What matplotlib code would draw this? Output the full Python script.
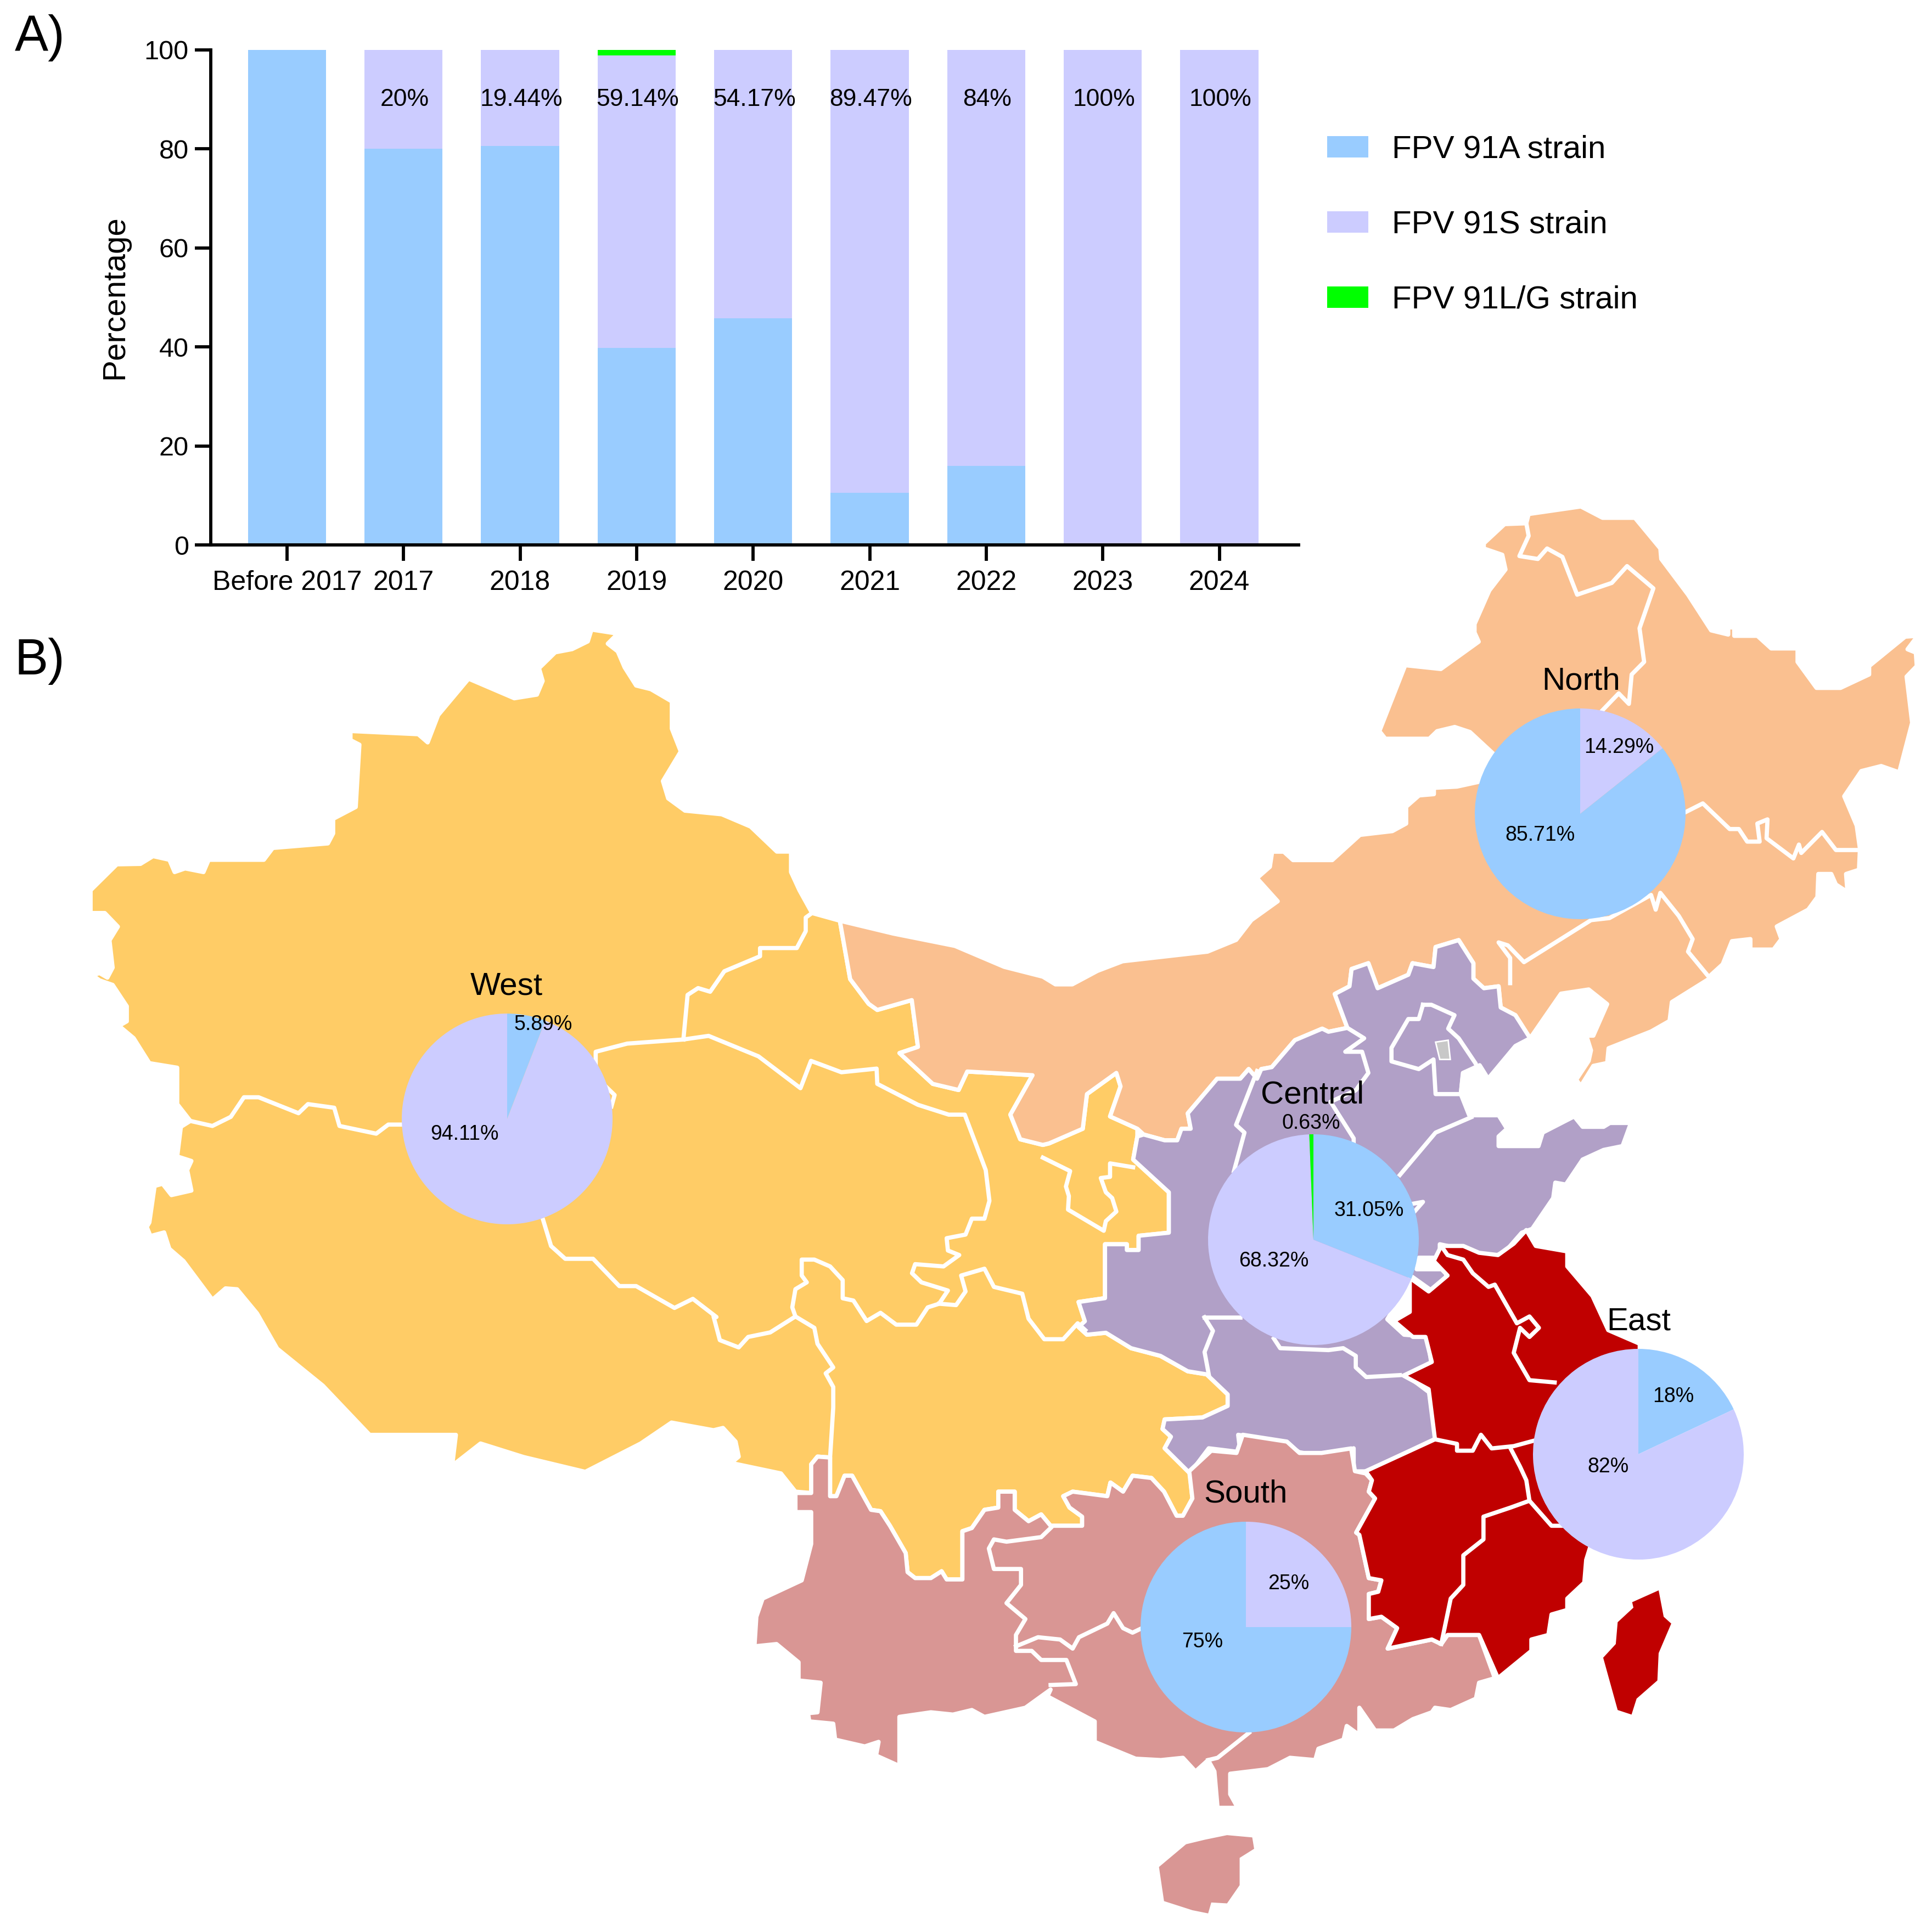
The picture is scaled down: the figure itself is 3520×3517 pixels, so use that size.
import matplotlib
matplotlib.use("Agg")
import matplotlib.pyplot as plt
from matplotlib.patches import Polygon

plt.rcParams['font.family'] = ['Liberation Sans', 'DejaVu Sans']

W, H = 3520, 3517

# bar chart data
years = ['Before 2017', '2017', '2018', '2019', '2020', '2021', '2022', '2023', '2024']
strain_a = [100, 80, 80.56, 39.78, 45.83, 10.53, 16, 0, 0]
strain_s = [0, 20, 19.44, 59.14, 54.17, 89.47, 84, 100, 100]
strain_lg = [0, 0, 0, 1.08, 0, 0, 0, 0, 0]
bar_labels = ['', '20%', '19.44%', '59.14%', '54.17%', '89.47%', '84%', '100%', '100%']

BLUE = '#99CCFF'
LAV = '#CCCCFF'
GREEN = '#00FF00'


def crop(x0, y0, w, h):
    def conv(pts):
        return [(x0 + x * w / 1568, H - (y0 + y * h / 1568)) for x, y in pts]
    return conv


s = crop(0, 0, 3520, 3517 * 1568 / 1567)
z2 = crop(2200, 900, 1320, 1200)
z3 = crop(100, 1100, 1500, 1300)
z4 = crop(1300, 2200, 1800, 1300)
z5 = crop(1900, 1650, 1200, 1100)

# map outlines
west_outline = (
    z3([(258, 1137), (233, 1100), (233, 1020), (180, 1010), (150, 955), (122, 928), (137, 918), (137, 885),
        (110, 838), (85, 828), (72, 817), (85, 812), (100, 822), (110, 800), (104, 740), (120, 710), (95, 680),
        (68, 680), (68, 630), (118, 573), (163, 572), (187, 555), (218, 563), (228, 590), (248, 582), (283, 590),
        (293, 563), (398, 563), (415, 537), (520, 527), (530, 505), (530, 473), (573, 447), (580, 310), (563, 300),
        (563, 280), (692, 287), (710, 305), (730, 245), (788, 165), (875, 208), (918, 200), (929, 170), (922, 142),
        (953, 107), (985, 100), (1015, 83), (1022, 57), (1072, 66), (1053, 88), (1072, 105), (1085, 140),
        (1107, 180), (1135, 188), (1175, 215), (1175, 275), (1192, 325), (1158, 390), (1168, 428), (1200, 455),
        (1270, 463), (1325, 490), (1375, 545), (1402, 545), (1402, 590), (1418, 630), (1442, 680), (1495, 697)])
    + s([(690, 795), (705, 815), (712, 820), (740, 812), (745, 850), (730, 855), (757, 880), (778, 885), (785, 870),
         (838, 873), (820, 905), (828, 925)])
    + z5([(0, 622), (15, 618), (95, 580), (105, 490), (175, 435), (185, 470), (160, 548), (225, 580), (225, 600),
          (215, 660), (300, 745), (300, 850), (228, 858), (228, 895), (200, 895), (200, 880), (148, 880), (148, 1020),
          (85, 1030), (100, 1080), (85, 1095), (105, 1115), (150, 1110), (210, 1150), (280, 1170), (345, 1210),
          (390, 1218), (440, 1270), (440, 1300), (380, 1330), (290, 1335), (285, 1360), (305, 1380), (290, 1410),
          (350, 1475)])
    + z4([(760, 640), (745, 678), (735, 678), (715, 625), (695, 595), (665, 590), (650, 625), (630, 605), (625, 635),
          (570, 625), (555, 635), (565, 660), (585, 680), (585, 700), (535, 700), (520, 675), (500, 690), (478, 665),
          (478, 625), (452, 625), (452, 660), (430, 665), (410, 705), (395, 712), (395, 818), (370, 818), (362, 800),
          (345, 815), (320, 815), (308, 802), (305, 760), (280, 700), (265, 668), (250, 665), (240, 640), (220, 590),
          (208, 590), (195, 635), (185, 635), (185, 550), (165, 548), (155, 565), (155, 628), (130, 625), (107, 585),
          (28, 562), (40, 548), (35, 515), (15, 485), (0, 490)])
    + s([(545, 1155), (520, 1172), (475, 1195), (425, 1183), (390, 1172), (367, 1190), (370, 1165), (300, 1165),
         (262, 1125), (225, 1095)])
    + z3([(385, 1560), (347, 1507), (325, 1505), (300, 1530), (245, 1445), (218, 1418), (208, 1382), (182, 1390),
          (175, 1370), (180, 1360), (190, 1280), (205, 1275), (222, 1300), (260, 1290), (252, 1245), (260, 1225),
          (233, 1215), (240, 1150)])
)
west_lines = [
    z3([(258, 1137), (300, 1148), (335, 1128), (360, 1085), (388, 1085), (464, 1120), (482, 1100), (532, 1108),
        (542, 1148), (612, 1165), (635, 1145), (700, 1145)]),
    z3([(1442, 680), (1430, 690), (1430, 720), (1413, 757), (1343, 757), (1343, 775), (1275, 808), (1248, 853),
        (1225, 845), (1205, 860), (1197, 958)]),
    z3([(1060, 1105), (1066, 1080), (1030, 1040), (1030, 985), (1090, 967), (1197, 958), (1245, 950), (1340, 995),
        (1420, 1065), (1440, 1005), (1498, 1030), (1565, 1022)])
    + s([(712, 880), (745, 897), (770, 905), (783, 905), (800, 950), (803, 975)])
    + z4([(430, 25), (410, 25), (400, 60), (370, 68), (372, 95), (390, 105), (365, 130), (320, 125), (315, 145),
          (330, 165), (372, 183), (358, 212), (340, 220), (322, 258), (290, 258), (265, 232), (243, 250), (222, 205),
          (205, 200), (205, 160), (185, 130), (160, 115), (140, 115), (140, 150), (148, 165), (130, 180), (125, 220),
          (130, 240), (90, 275), (55, 285), (40, 308), (10, 292), (0, 240)])
    + z3([(1260, 1568), (1215, 1528), (1180, 1548), (1107, 1500), (1075, 1500), (1025, 1440), (972, 1440), (945, 1412),
          (930, 1355)]),
    z4([(358, 212), (385, 215), (400, 185), (393, 150), (430, 135), (445, 175), (490, 190), (500, 245), (525, 290),
        (555, 290), (578, 255), (590, 270)]),
    z4([(130, 240), (160, 265), (165, 300), (190, 352), (178, 365), (190, 395), (190, 440), (185, 550)]),
    z5([(0, 655), (65, 690), (55, 730), (62, 755), (60, 790), (145, 845), (150, 820), (175, 795), (165, 760),
        (150, 745), (138, 708), (160, 705), (160, 670), (215, 680)]),
]

north_outline = (
    z3([(1495, 697)])
    + s([(690, 795), (705, 815), (712, 820), (740, 812), (745, 850), (730, 855), (757, 880), (778, 885), (785, 870),
         (838, 873), (820, 905), (828, 925)])
    + z5([(0, 622), (15, 618), (95, 580), (105, 490), (175, 435), (185, 470), (160, 548), (225, 580), (240, 595),
          (290, 610), (320, 610), (330, 580), (352, 580), (345, 540), (415, 450), (470, 450), (490, 425), (510, 450),
          (520, 425), (545, 420), (600, 350), (665, 320), (680, 328), (725, 318), (695, 230), (730, 210), (735, 165),
          (775, 150), (797, 215), (870, 180), (880, 150), (930, 160), (935, 108), (990, 90), (1025, 150), (1025, 190),
          (1050, 215), (1085, 210), (1090, 265), (1125, 285), (1160, 345)])
    + z2([(765, 1190), (825, 1180), (865, 1215), (835, 1290), (820, 1290), (830, 1325), (825, 1350), (798, 1395),
          (808, 1410), (835, 1362), (865, 1355), (868, 1320), (960, 1280), (1000, 1255), (1005, 1210), (1085, 1155),
          (1090, 1145), (1115, 1120), (1135, 1065), (1175, 1060), (1175, 1085), (1225, 1085), (1242, 1060),
          (1232, 1030), (1300, 990), (1320, 960), (1322, 905), (1350, 905), (1360, 930), (1385, 948), (1382, 905),
          (1410, 895), (1412, 845), (1405, 790), (1378, 720), (1415, 660), (1458, 648), (1497, 663), (1525, 545),
          (1513, 435), (1535, 410), (1533, 378), (1515, 370), (1537, 338), (1510, 340), (1432, 410), (1432, 430),
          (1370, 462), (1318, 462), (1277, 400), (1277, 368), (1220, 368), (1190, 338), (1140, 338), (1140, 318),
          (1127, 318), (1127, 335), (1090, 325), (1040, 240), (982, 155), (980, 130), (925, 57), (855, 57), (808, 30),
          (695, 48), (690, 70), (643, 72), (598, 118), (598, 130), (638, 145), (645, 180), (610, 230), (578, 310),
          (578, 330), (587, 352), (505, 417), (428, 408), (372, 565), (385, 583), (480, 583), (497, 565), (535, 555),
          (568, 567), (620, 620), (590, 685), (540, 697), (490, 700), (490, 715), (458, 718), (430, 745), (430, 785),
          (400, 803), (330, 812), (270, 872), (185, 872), (165, 852), (140, 852), (135, 888), (107, 915), (152, 970),
          (95, 1015), (62, 1062), (0, 1090)])
    + z5([(190, 145), (130, 170), (70, 205), (30, 205), (0, 185)])
    + s([(815, 785), (775, 768), (725, 758)])
)
north_lines = [
    z2([(655, 1165), (655, 1105), (630, 1068), (650, 1075), (685, 1115), (830, 1015), (870, 1010), (960, 955),
        (970, 990), (980, 950), (1020, 1005), (1050, 1060), (1040, 1090), (1085, 1150)]),
    z2([(690, 70), (695, 100), (675, 148), (715, 155), (735, 130), (768, 150), (800, 240), (875, 212), (908, 172),
        (965, 225), (935, 320), (945, 400), (918, 430), (912, 500), (890, 475), (855, 515)]),
    z2([(1036, 757), (1072, 737), (1130, 798), (1150, 798), (1168, 828), (1195, 828), (1190, 785), (1212, 775),
        (1210, 820), (1268, 868), (1280, 835), (1285, 855), (1330, 805), (1360, 848), (1412, 848)]),
]

central_outline = z5([
    (85, 1030), (148, 1020), (148, 880), (200, 880), (200, 895), (228, 895), (228, 858), (300, 850), (300, 745),
    (215, 660), (225, 600), (240, 595), (290, 610), (320, 610), (330, 580), (352, 580), (345, 540), (415, 450),
    (470, 450), (490, 425), (510, 450), (520, 425), (545, 420), (600, 350), (665, 320), (680, 328), (725, 318),
    (695, 230), (730, 210), (735, 165), (775, 150), (797, 215), (870, 180), (880, 150), (930, 160), (935, 108),
    (990, 90), (1025, 150), (1025, 190), (1050, 215), (1085, 210), (1090, 265), (1125, 285), (1160, 345), (1125, 365),
    (1060, 450), (1040, 415), (1000, 435), (995, 490), (1015, 545), (1045, 545), (1085, 545), (1105, 580), (1085, 600),
    (1085, 625), (1180, 625), (1190, 590), (1265, 548), (1285, 575), (1335, 575), (1350, 565), (1400, 565), (1380, 625),
    (1335, 635), (1285, 660), (1245, 725), (1220, 720), (1215, 760), (1165, 840), (1140, 850), (1100, 900), (1065, 915),
    (1030, 900), (945, 880), (945, 915), (895, 915), (890, 945), (960, 945), (960, 970), (925, 1000), (880, 965),
    (820, 1075), (860, 1115), (915, 1120), (925, 1190), (865, 1220), (920, 1265), (935, 1385), (770, 1470), (740, 1470),
    (740, 1410), (680, 1435), (610, 1420), (575, 1395), (465, 1375), (470, 1420), (395, 1410), (350, 1475), (290, 1410),
    (305, 1380), (285, 1360), (290, 1335), (380, 1330), (440, 1300), (440, 1270), (390, 1218), (345, 1210), (280, 1170),
    (210, 1150), (150, 1110), (105, 1115), (85, 1095), (100, 1080)])
central_lines = [
    z5([(510, 430), (460, 570), (480, 590), (455, 690)]),
    z5([(725, 318), (765, 345), (720, 380), (760, 380), (775, 435), (745, 480), (685, 510), (740, 605), (740, 640)]),
    z5([(1020, 550), (935, 590), (850, 700)]),
    z5([(880, 775), (905, 770), (885, 795)]),
    z5([(905, 258), (925, 258), (980, 285), (965, 320), (990, 345), (1030, 410), (1040, 435), (1000, 440), (995, 490),
        (935, 490), (930, 400), (895, 425), (830, 405), (830, 370), (870, 295), (895, 295), (905, 258)]),
    z5([(385, 1070), (470, 1070)]),
    z5([(385, 1070), (405, 1105), (385, 1160), (395, 1218)]),
    z5([(550, 1125), (565, 1150), (680, 1155), (715, 1150), (745, 1170), (745, 1200), (770, 1225), (850, 1220)]),
]
tianjin_patch = z5([(935, 355), (965, 350), (970, 400), (945, 400)])

east_outline = z4([
    (1155, 85), (1143, 118), (1165, 150), (1135, 185), (1105, 155), (1105, 230), (1080, 250), (1110, 285), (1130, 285),
    (1140, 340), (1095, 370), (1135, 400), (1145, 510), (1035, 580), (1045, 600), (1040, 625), (1050, 640), (1020, 715),
    (1025, 720), (1040, 815), (1060, 820), (1055, 845), (1040, 850), (1040, 905), (1060, 900), (1085, 925), (1070, 970),
    (1140, 950), (1155, 960), (1165, 940), (1215, 940), (1245, 1035), (1298, 975), (1298, 950), (1325, 940), (1330, 895),
    (1355, 885), (1355, 860), (1382, 825), (1385, 775), (1470, 400), (1470, 300), (1420, 270), (1395, 195), (1355, 130),
    (1355, 97), (1305, 85), (1290, 50), (1270, 80), (1245, 105), (1215, 100), (1190, 85), (1160, 85)])
east_lines = [
    z4([(1155, 85), (1165, 105), (1190, 115), (1205, 145), (1230, 175), (1240, 170), (1275, 255), (1295, 240), (1310, 265),
        (1295, 285), (1280, 265), (1270, 320), (1295, 380), (1335, 385)]),
    z4([(1145, 510), (1180, 520), (1180, 535), (1205, 535), (1218, 500), (1235, 530), (1270, 525), (1310, 510)]),
    z4([(1265, 530), (1280, 570), (1290, 600), (1295, 645), (1265, 660), (1222, 680), (1222, 730), (1190, 765), (1190, 830),
        (1170, 860), (1155, 960)]),
    z4([(1295, 645), (1330, 700), (1350, 700)]),
]
taiwan = z4([(1500, 842), (1508, 900), (1520, 915), (1500, 980), (1498, 1040), (1465, 1080), (1457, 1115), (1435, 1105),
             (1425, 1055), (1412, 990), (1432, 960), (1435, 912), (1460, 880), (1458, 868)])

south_outline = z4([
    (755, 580), (790, 535), (830, 540), (840, 500), (910, 515), (930, 540), (965, 540), (1012, 530), (1018, 580),
    (1035, 585), (1045, 600), (1040, 625), (1050, 640), (1020, 715), (1025, 720), (1040, 815), (1060, 820), (1055, 845),
    (1040, 850), (1040, 905), (1060, 900), (1085, 925), (1070, 970), (1140, 950), (1155, 960), (1165, 940), (1215, 940),
    (1240, 1035), (1215, 1045), (1210, 1080), (1170, 1105), (1145, 1100), (1140, 1110), (1110, 1125), (1080, 1150),
    (1050, 1150), (1025, 1100), (1025, 1160), (1005, 1140), (1000, 1170), (960, 1190), (955, 1215), (915, 1210),
    (880, 1235), (820, 1245), (820, 1290), (832, 1320), (800, 1320), (795, 1240), (785, 1215), (765, 1240), (745, 1210),
    (710, 1215), (670, 1212), (605, 1175), (605, 1130), (530, 1075), (535, 1060), (495, 1100), (430, 1120), (410, 1105),
    (380, 1115), (345, 1110), (295, 1120), (295, 1228), (258, 1205), (262, 1175), (240, 1185), (193, 1170), (190, 1135),
    (152, 1130), (150, 1112), (165, 1110), (170, 1045), (135, 1040), (135, 1000), (100, 960), (65, 965), (68, 900),
    (78, 860), (140, 820), (155, 740), (155, 670), (130, 670), (130, 628), (155, 628), (155, 565), (165, 548), (185, 550),
    (185, 635), (195, 635), (208, 590), (220, 590), (240, 640), (250, 665), (265, 668), (280, 700), (305, 760), (308, 802),
    (320, 815), (345, 815), (362, 800), (370, 818), (395, 818), (395, 712), (410, 705), (430, 665), (452, 660), (452, 625),
    (478, 625), (478, 665), (500, 690), (520, 675), (535, 700), (585, 700), (585, 680), (565, 660), (555, 635), (570, 625),
    (625, 635), (630, 605), (650, 625), (665, 590), (695, 595), (715, 625), (735, 678), (745, 678), (760, 640)])
south_lines = [
    z4([(535, 705), (520, 725), (465, 735), (445, 730), (437, 750), (445, 795), (488, 795), (488, 830), (465, 870), (495, 905),
        (480, 940), (480, 975), (505, 975), (520, 995), (560, 995), (575, 1048), (535, 1050)]),
    z4([(480, 965), (515, 945), (550, 950), (570, 970), (580, 945), (625, 915), (635, 892), (650, 925), (665, 935), (680, 925)]),
    z4([(850, 1155), (800, 1210), (785, 1215)]),
]
hainan = z4([(715, 1525), (707, 1450), (750, 1400), (780, 1390), (815, 1380), (855, 1385), (858, 1410), (835, 1430),
             (835, 1490), (815, 1530), (790, 1528), (785, 1552), (760, 1545)])

# region pies, clockwise from the top
north_pie = [14.29, 85.71]
west_pie = [5.89, 94.11]
central_pie = [31.05, 68.32, 0.63]
east_pie = [18, 82]
south_pie = [25, 75]

fig = plt.figure(figsize=(W / 100, H / 100), dpi=100, facecolor='white')

# map
mp = fig.add_axes([0, 0, 1, 1])
LW = 5.5
for outline, lines, color in [(west_outline, west_lines, '#FFCC66'),
                              (north_outline, north_lines, '#FAC090'),
                              (central_outline, central_lines, '#B1A0C7'),
                              (south_outline, south_lines, '#D99694'),
                              (east_outline, east_lines, '#C00000')]:
    mp.add_patch(Polygon(outline, closed=True, facecolor=color, edgecolor='white', linewidth=LW, joinstyle='round'))
    for line in lines:
        xs, ys = zip(*line)
        mp.plot(xs, ys, color='white', linewidth=LW, solid_joinstyle='round')
mp.add_patch(Polygon(tianjin_patch, closed=True, facecolor='#C8C8C8', edgecolor='white', linewidth=2, zorder=3))
mp.add_patch(Polygon(taiwan, closed=True, facecolor='#C00000', edgecolor='none'))
mp.add_patch(Polygon(hainan, closed=True, facecolor='#D99694', edgecolor='none'))

R = 192
pies = [
    (north_pie, [LAV, BLUE], 2879, 1483),
    (west_pie, [BLUE, LAV], 924, 2039),
    (central_pie, [BLUE, LAV, GREEN], 2393, 2259),
    (east_pie, [BLUE, LAV], 2985, 2650),
    (south_pie, [LAV, BLUE], 2270, 2965),
]
for vals, cols, cx, cy in pies:
    mp.pie(vals, colors=cols, center=(cx, H - cy), radius=R, startangle=90, counterclock=False,
           wedgeprops={'linewidth': 0, 'zorder': 5}, frame=False)

mp.set_xlim(0, W)
mp.set_ylim(0, H)
mp.set_aspect('auto')
mp.axis('off')

region_labels = [('North', 1283, 553), ('West', 411, 801), ('Central', 1065, 889), ('East', 1330, 1073), ('South', 1011, 1213)]
for name, x, y in region_labels:
    px, py = s([(x, y)])[0]
    mp.text(px, py, name, fontsize=42, ha='center', va='center', zorder=6)

pie_labels = [('14.29%', 1314, 607), ('85.71%', 1250, 678), ('5.89%', 441, 832), ('94.11%', 377, 921),
              ('0.63%', 1064, 912), ('31.05%', 1111, 983), ('68.32%', 1034, 1024), ('18%', 1358, 1134),
              ('82%', 1305, 1191), ('25%', 1046, 1286), ('75%', 976, 1333)]
for name, x, y in pie_labels:
    px, py = s([(x, y)])[0]
    mp.text(px, py, name, fontsize=27, ha='center', va='center', zorder=6)

# bar chart
left, right, top, bottom = 384, 2366, 91, 993
ax = fig.add_axes([left / W, 1 - bottom / H, (right - left) / W, (bottom - top) / H])
ax.patch.set_alpha(0)
x = list(range(len(years)))
b1 = ax.bar(x, strain_a, width=0.67, color=BLUE, label='FPV 91A strain')
b2 = ax.bar(x, strain_s, width=0.67, bottom=strain_a, color=LAV, label='FPV 91S strain')
tops = [a + b for a, b in zip(strain_a, strain_s)]
b3 = ax.bar(x, strain_lg, width=0.67, bottom=tops, color=GREEN, label='FPV 91L/G strain')
for i, lab in enumerate(bar_labels):
    ax.text(i + 0.01, 90, lab, fontsize=32, ha='center', va='center')

ax.set_xlim(-0.654, 8.68)
ax.set_ylim(0, 100)
ax.set_xticks(x)
ax.set_xticklabels(years, fontsize=36)
ax.set_yticks(range(0, 101, 20))
ax.tick_params(axis='y', labelsize=35, width=4.2, length=21, pad=8)
ax.tick_params(axis='x', width=4.2, length=21, pad=12)
ax.spines['top'].set_visible(False)
ax.spines['right'].set_visible(False)
ax.spines['left'].set_linewidth(4.2)
ax.spines['bottom'].set_linewidth(4.2)
ax.set_ylabel('Percentage', fontsize=42)
ax.yaxis.set_label_coords(-0.0745, 0.5)

fig.legend(handles=[b1, b2, b3], loc='upper left', bbox_to_anchor=(2418 / W, 1 - 246 / H), frameon=False, fontsize=42,
           borderpad=0, borderaxespad=0, handlelength=1.28, handleheight=0.65, handletextpad=0.74, labelspacing=1.42)

fig.text(27 / W, 1 - 69 / H, 'A)', fontsize=66, ha='left', va='center')
fig.text(27 / W, 1 - 1205 / H, 'B)', fontsize=66, ha='left', va='center')

fig.savefig('out.png', dpi=100)
